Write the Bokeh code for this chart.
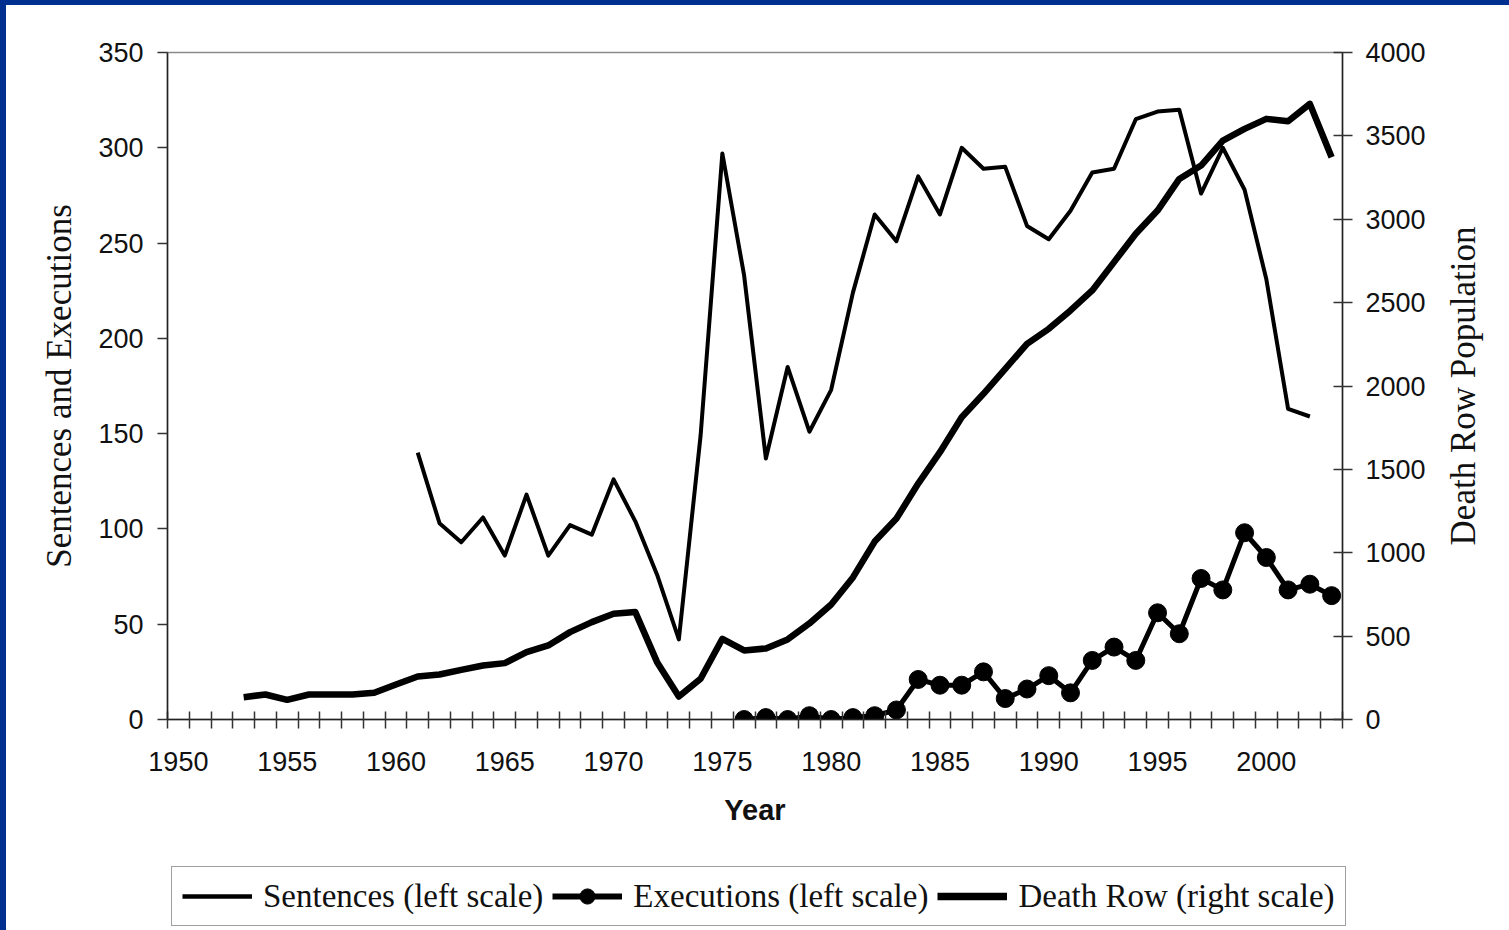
from bokeh.plotting import figure
from bokeh.layouts import column, row
from bokeh.models import (Range1d, LinearAxis, FixedTicker, Legend, LegendItem,
                          ColumnDataSource)
from bokeh.embed import file_html
from bokeh.resources import INLINE

# ---------------- data ----------------
sent_years = list(range(1961, 2003))
sentences = [140, 103, 93, 106, 86, 118, 86, 102, 97, 126, 104, 76, 42, 149,
             297, 233, 137, 185, 151, 173, 224, 265, 251, 285, 265, 300, 289, 290,
             259, 252, 267, 287, 289, 315, 319, 320, 276, 300, 278, 231, 163, 159]

exec_years = list(range(1976, 2004))
executions = [0, 1, 0, 2, 0, 1, 2, 5, 21, 18, 18, 25, 11, 16, 23, 14, 31, 38,
              31, 56, 45, 74, 68, 98, 85, 68, 71, 65]

dr_years = list(range(1953, 2004))
death_row = [134, 150, 118, 150, 150, 150, 160, 210, 258, 270, 298, 324, 338,
             404, 444, 524, 584, 634, 644, 344, 138, 244, 484, 414, 426, 480,
             576, 690, 852, 1067, 1205, 1415, 1603, 1813, 1953, 2103, 2253,
             2343, 2453, 2573, 2743, 2913, 3052, 3242, 3322, 3472, 3542, 3602,
             3588, 3692, 3372]

legend_labels = ["Sentences (left scale)", "Executions (left scale)",
                 "Death Row (right scale)"]
left_title = "Sentences and Executions"
right_title = "Death Row Population"
x_title = "Year"
x_label_years = list(range(1950, 2001, 5))
category_edges = [y - 0.5 for y in range(1950, 2005)]
left_ticks = list(range(0, 351, 50))
right_ticks = list(range(0, 4001, 500))

AX_FONT = "Liberation Sans"
TITLE_FONT = "Liberation Serif"

# ---------------- main figure ----------------
W, H1, H2 = 1503, 850, 75
WP = 1429          # main chart width; the rest holds the right-hand title
FRAME_L, FRAME_R, FRAME_T, FRAME_B = 161, 1336, 47, 714

p = figure(width=WP, height=H1, output_backend="svg", toolbar_location=None,
           x_range=Range1d(1949.5, 2003.5), y_range=Range1d(0, 350),
           min_border_left=FRAME_L, min_border_right=WP - FRAME_R,
           min_border_top=FRAME_T, min_border_bottom=H1 - FRAME_B)
p.background_fill_color = "white"
p.border_fill_color = "white"
p.outline_line_color = "#8a8a8a"
p.outline_line_width = 1.5
p.grid.visible = False
p.extra_y_ranges = {"dr": Range1d(0, 4000)}

# x axis
xa = p.xaxis[0]
xa.ticker = FixedTicker(ticks=x_label_years, minor_ticks=category_edges)
xa.major_tick_in = 0
xa.major_tick_out = 0
xa.minor_tick_in = 8
xa.minor_tick_out = 9
xa.minor_tick_line_color = "#333333"
xa.minor_tick_line_width = 1.5
xa.axis_line_color = "#222222"
xa.axis_line_width = 1.5
xa.major_label_text_font = AX_FONT
xa.major_label_text_font_size = "27px"
xa.major_label_text_color = "#111111"
xa.major_label_standoff = 23
xa.axis_label = x_title
xa.axis_label_text_font = AX_FONT
xa.axis_label_text_font_style = "bold"
xa.axis_label_text_font_size = "29px"
xa.axis_label_text_color = "#111111"
xa.axis_label_standoff = 20

# left axis
ya = p.yaxis[0]
ya.ticker = FixedTicker(ticks=left_ticks, minor_ticks=[])
ya.major_tick_in = 0
ya.major_tick_out = 10
ya.major_tick_line_color = "#333333"
ya.major_tick_line_width = 1.5
ya.minor_tick_line_color = None
ya.axis_line_color = "#222222"
ya.axis_line_width = 1.5
ya.major_label_text_font = AX_FONT
ya.major_label_text_font_size = "27px"
ya.major_label_text_color = "#111111"
ya.major_label_standoff = 14
ya.axis_label = left_title
ya.axis_label_text_font = TITLE_FONT
ya.axis_label_text_font_style = "normal"
ya.axis_label_text_font_size = "35px"
ya.axis_label_text_color = "#111111"
ya.axis_label_standoff = 16

# right axis (numbers only; its title sits in the strip to the right)
ra = LinearAxis(y_range_name="dr", ticker=FixedTicker(ticks=right_ticks, minor_ticks=[]))
ra.major_tick_in = 9
ra.major_tick_out = 10
ra.major_tick_line_color = "#333333"
ra.major_tick_line_width = 1.5
ra.minor_tick_line_color = None
ra.axis_line_color = "#222222"
ra.axis_line_width = 1.5
ra.major_label_text_font = AX_FONT
ra.major_label_text_font_size = "27px"
ra.major_label_text_color = "#111111"
ra.major_label_standoff = 13
p.add_layout(ra, "right")

# ---------------- series ----------------
src_s = ColumnDataSource(dict(x=sent_years, y=sentences))
src_e = ColumnDataSource(dict(x=exec_years, y=executions))
src_d = ColumnDataSource(dict(x=dr_years, y=death_row))

p.line("x", "y", source=src_s, line_color="black", line_width=4, line_join="round")
p.line("x", "y", source=src_d, line_color="black", line_width=6.5, line_join="round",
       y_range_name="dr")
p.line("x", "y", source=src_e, line_color="black", line_width=5, line_join="round")
p.scatter("x", "y", source=src_e, size=18, fill_color="black", line_color="black")

# ---------------- right-hand title strip (reads bottom to top) ----------------
r = figure(width=W - WP, height=H1, output_backend="svg", toolbar_location=None,
           x_range=Range1d(0, 1), y_range=Range1d(0, 4000),
           x_axis_location=None, y_axis_location="left",
           min_border_left=47, min_border_right=0,
           min_border_top=FRAME_T, min_border_bottom=H1 - FRAME_B)
r.outline_line_color = None
r.grid.visible = False
r.background_fill_color = "white"
r.border_fill_color = "white"
rt = r.yaxis[0]
rt.ticker = FixedTicker(ticks=[], minor_ticks=[])
rt.axis_line_color = None
rt.major_tick_line_color = None
rt.minor_tick_line_color = None
rt.major_label_text_font_size = "1px"
rt.axis_label = right_title
rt.axis_label_text_font = TITLE_FONT
rt.axis_label_text_font_style = "normal"
rt.axis_label_text_font_size = "35px"
rt.axis_label_text_color = "#111111"
rt.axis_label_standoff = 0

# ---------------- legend strip ----------------
# same series, drawn outside this strip's visible range: only the legend shows
q = figure(width=W, height=H2, output_backend="svg", toolbar_location=None,
           x_range=Range1d(0, 1), y_range=Range1d(0, 1),
           x_axis_location=None, y_axis_location=None,
           min_border_left=FRAME_L, min_border_right=140,
           min_border_top=0, min_border_bottom=0)
q.outline_line_color = None
q.grid.visible = False
q.background_fill_color = "white"
q.border_fill_color = "white"
g1 = q.line("x", "y", source=src_s, line_color="black", line_width=4.5)
g2a = q.line("x", "y", source=src_e, line_color="black", line_width=6)
g2b = q.scatter("x", "y", source=src_e, size=20, fill_color="black", line_color="black")
g3 = q.line("x", "y", source=src_d, line_color="black", line_width=7.5)

legend = Legend(items=[
    LegendItem(label=legend_labels[0], renderers=[g1]),
    LegendItem(label=legend_labels[1], renderers=[g2a, g2b]),
    LegendItem(label=legend_labels[2], renderers=[g3]),
], orientation="horizontal", location=(4, 4))
legend.label_text_font = TITLE_FONT
legend.label_text_font_size = "33px"
legend.label_text_color = "#111111"
legend.glyph_width = 70
legend.glyph_height = 38
legend.label_height = 38
legend.label_standoff = 11
legend.spacing = 9
legend.padding = 10
legend.margin = 0
legend.border_line_color = "#404040"
legend.border_line_width = 1.5
legend.background_fill_color = "white"
legend.background_fill_alpha = 1
q.add_layout(legend, "center")

layout = column(row(p, r, spacing=0), q, spacing=0,
                styles={"border-left": "6px solid #00308f",
                        "border-top": "5px solid #00308f"})

open("out.html", "w").write(file_html(layout, INLINE))
